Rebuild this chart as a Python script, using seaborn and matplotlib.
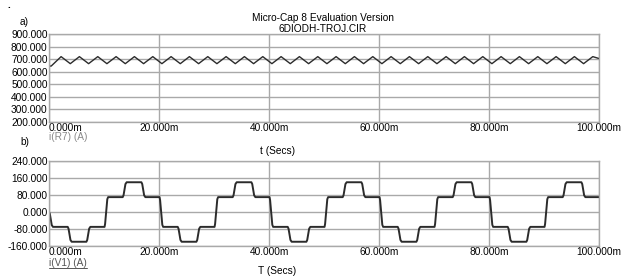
import numpy as np
import pandas as pd
import seaborn as sns
import matplotlib.pyplot as plt
from matplotlib.lines import Line2D

# --- datos (tiempos en ms) ---
# a) corriente i(R7): instante inicial, picos y valles del rizado
start_ms = [0.0, 0.4]
start_val = [645, 645]
peak_ms = [2.20, 5.53, 8.87, 12.20, 15.53, 18.87, 22.20, 25.53, 28.87, 32.20,
           35.53, 38.87, 42.20, 45.53, 48.87, 52.20, 55.53, 58.87, 62.20, 65.53,
           68.87, 72.20, 75.53, 78.87, 82.20, 85.53, 88.87, 92.20, 95.53, 98.87]
trough_ms = [3.87, 7.20, 10.53, 13.87, 17.20, 20.53, 23.87, 27.20, 30.53, 33.87,
             37.20, 40.53, 43.87, 47.20, 50.53, 53.87, 57.20, 60.53, 63.87, 67.20,
             70.53, 73.87, 77.20, 80.53, 83.87, 87.20, 90.53, 93.87, 97.20]
peak_val = 720
trough_val = 664
end_ms, end_val = 100.0, 705

# b) corriente i(V1): instantes de cada escalon y nivel alcanzado
step_ms = [0.0, 3.4, 6.8, 10.1, 13.4, 16.8, 20.1, 23.4, 26.8, 30.1,
           33.4, 36.8, 40.1, 43.4, 46.8, 50.1, 53.4, 56.8, 60.1, 63.4,
           66.8, 70.1, 73.4, 76.8, 80.1, 83.4, 86.8, 90.1, 93.4, 96.8]
step_level = [-70, -140, -70, 70, 140, 70, -70, -140, -70, 70,
              140, 70, -70, -140, -70, 70, 140, 70, -70, -140,
              -70, 70, 140, 70, -70, -140, -70, 70, 140, 70]

top_ticks = [200, 300, 400, 500, 600, 700, 800, 900]
bot_ticks = [-160, -80, 0, 80, 160, 240]
x_ticks = [0, 20, 40, 60, 80, 100]

# --- construir las series ---
ripple = sorted([(t, peak_val) for t in peak_ms] + [(t, trough_val) for t in trough_ms])
t_top = start_ms + [p[0] for p in ripple] + [end_ms]
v_top = start_val + [p[1] for p in ripple] + [end_val]
top = pd.DataFrame({'t': t_top, 'i': v_top})

t_bot, v_bot = [0.0], [0.0]
prev = 0.0
for ts, lv in zip(step_ms, step_level):
    d = lv - prev
    if abs(d) > 100:  # paso rapido por cero
        pts = [(0, 0), (0.1, 0.1), (0.5, 0.93), (0.65, 1.0)]
    else:
        pts = [(0, 0), (0.15, 0.12), (0.5, 0.88), (0.72, 1.0)]
    for dt, f in pts:
        t_bot.append(ts + dt)
        v_bot.append(prev + f * d)
    prev = lv
t_bot.append(100.0)
v_bot.append(prev)
bot = pd.DataFrame({'t': t_bot, 'i': v_bot})

# --- figura ---
sns.set_style('white')
plt.rcParams['font.family'] = ['Liberation Sans', 'DejaVu Sans']
plt.rcParams['text.color'] = 'black'
plt.rcParams['xtick.color'] = 'black'
plt.rcParams['ytick.color'] = 'black'
fs = 7.3
W, H = 622, 279

fig = plt.figure(figsize=(W / 100, H / 100), dpi=100)
ax1 = fig.add_axes([49 / W, 1 - 122 / H, 550 / W, 88 / H])
ax2 = fig.add_axes([49 / W, 1 - 246 / H, 550 / W, 85 / H])

grid_c = '#a9a9a9'
line_c = '#2b2b2b'

sns.lineplot(data=top, x='t', y='i', ax=ax1, color=line_c, lw=1.0, sort=False, estimator=None)
sns.lineplot(data=bot, x='t', y='i', ax=ax2, color=line_c, lw=1.4, sort=False, estimator=None)

for ax, yt in ((ax1, top_ticks), (ax2, bot_ticks)):
    ax.set_xlim(0, 100)
    ax.set_ylim(yt[0], yt[-1])
    ax.set_xticks(x_ticks)
    ax.set_yticks(yt)
    ax.set_yticklabels([f'{v:.3f}' for v in yt], fontsize=fs)
    ax.set_xticklabels([f'{v:.3f}m' for v in x_ticks], fontsize=fs)
    ax.get_xticklabels()[0].set_horizontalalignment('left')
    ax.tick_params(length=0, pad=1)
    ax.grid(True, color=grid_c, lw=1)
    for s in ax.spines.values():
        s.set_color(grid_c)
        s.set_linewidth(1)
    ax.set_xlabel('')
    ax.set_ylabel('')


def txt(x, y, s, va='center', **kw):
    return fig.text(x / W, 1 - y / H, s, fontsize=fs, va=va, **kw)


txt(7, 8, '.', va='baseline', ha='left', fontweight='bold')
txt(20, 22, 'a)', ha='left')
txt(323, 18, 'Micro-Cap 8 Evaluation Version', ha='center')
txt(323, 29, '6DIODH-TROJ.CIR', ha='center')
txt(49, 137, 'i(R7) (A)', ha='left', color='#8a8a8a')
txt(20, 142, 'b)', ha='left')
txt(277, 151, 't (Secs)', ha='center')
lab = txt(49, 263, 'i(V1) (A)', ha='left', color='#555555')
txt(277, 271, 'T (Secs)', ha='center')

# subrayado de la etiqueta i(V1)
fig.canvas.draw()
bb = lab.get_window_extent().transformed(fig.transFigure.inverted())
fig.add_artist(Line2D([bb.x0, bb.x1], [bb.y0 + 0.2 / H, bb.y0 + 0.2 / H],
                      transform=fig.transFigure, color='#555555', lw=0.7))

fig.savefig('out.png', dpi=100)
